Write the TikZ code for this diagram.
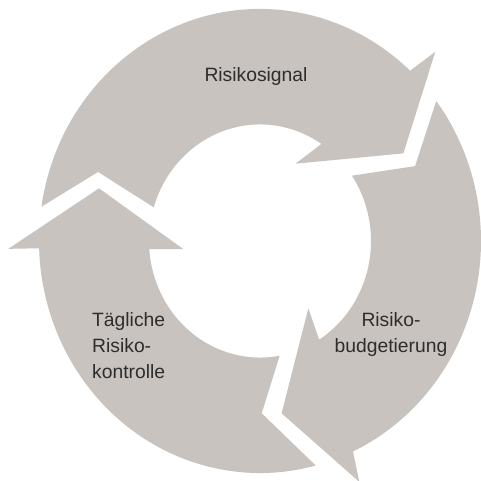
\documentclass[tikz,border=0pt]{standalone}
\usepackage{fontspec}
\setmainfont{Liberation Sans}
\definecolor{ringgray}{RGB}{200,195,191}
\definecolor{labelgray}{RGB}{45,45,45}
\begin{document}
\begin{tikzpicture}[x=1pt,y=1pt,
  cyclearrow/.style={fill=ringgray, draw=none},
  steplabel/.style={font=\fontsize{19.3}{25.8}\selectfont, text=labelgray, inner sep=0pt}]
\useasboundingbox (0,0) rectangle (480,481);
\begin{scope}[shift={(260,240)}, yscale=1.05]
  % upper arrow: runs over the top, head points down to the right
  \path[cyclearrow] (171.5:221pt) arc[start angle=171.5, end angle=47.2, radius=221pt]
    -- (45.8:251.5pt) -- (30.2:165.9pt) -- (64.3:81.7pt) -- (56.4:111pt)
    arc[start angle=56.4, end angle=163.2, radius=111pt]
    -- (157.9:174.8pt) -- cycle;
  % right arrow: runs down the right side, head points to the bottom left
  \path[cyclearrow] (37.1:221pt) arc[start angle=37.1, end angle=-65.1, radius=221pt]
    -- (-66.6:250pt) -- (-82.5:165.5pt) -- (-53:80.3pt) -- (-57.8:111pt)
    arc[start angle=-57.8, end angle=34.1, radius=111pt]
    -- (24.7:170.7pt) -- cycle;
  % left arrow: runs up the left side, head points up
  \path[cyclearrow] (-75.4:221pt) arc[start angle=-75.4, end angle=-178.2, radius=221pt]
    -- (181.7:251.8pt) -- (162.7:168.6pt) -- (185.7:77.1pt) -- (184:111pt)
    arc[start angle=184, end angle=280.2, radius=111pt]
    -- (270.6:164.1pt) -- cycle;
\end{scope}
% labels; the base anchor of a multi-line node sits on its last line
\node (signal) [steplabel, anchor=base] at (256,399) {Risikosignal};
\node (budget) [steplabel, anchor=base, align=center] at (391,128.3) {Risiko-\\budgetierung};
\node (control) [steplabel, anchor=base west, align=left] at (92,102.7) {Tägliche\\Risiko-\\kontrolle};
\end{tikzpicture}
\end{document}
